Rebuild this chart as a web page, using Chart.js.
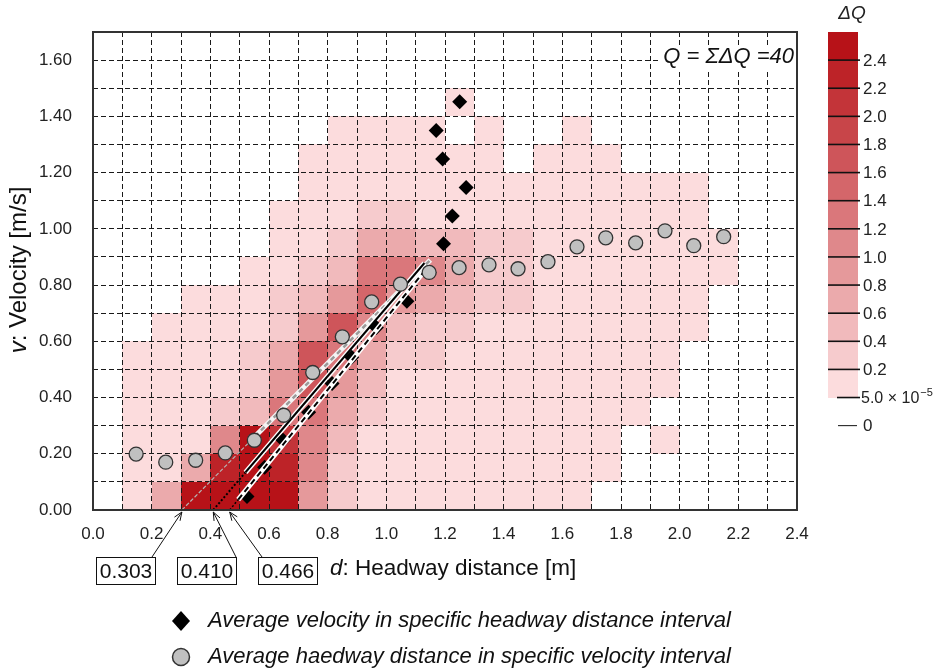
<!DOCTYPE html>
<html><head><meta charset="utf-8">
<script src="https://cdn.jsdelivr.net/npm/chart.js@4.4.1/dist/chart.umd.min.js"></script>
<style>html,body{margin:0;padding:0;background:#fff;}#wrap{width:942px;height:672px;}</style>
</head><body><div id="wrap"><canvas id="c" width="942" height="672"></canvas></div>
<script>
// ---------- DATA ----------
const headwayBinStarts = [0.0,0.1,0.2,0.3,0.4,0.5,0.6,0.7,0.8,0.9,1.0,1.1,1.2,1.3,1.4,1.5,1.6,1.7,1.8,1.9,2.0,2.1,2.2,2.3];
const velocityBinStarts = [0.0,0.1,0.2,0.3,0.4,0.5,0.6,0.7,0.8,0.9,1.0,1.1,1.2,1.3,1.4,1.5,1.6];
const binWidth = 0.1;
// deltaQ per velocity bin (one array per row), columns follow headwayBinStarts
const dqV00 = [0,0.05,0.7,2.6,2.6,2.6,2.4,0.9,0.3,0.15,0.05,0.05,0.05,0.05,0.05,0.05,0.05,0,0,0,0,0,0,0];
const dqV01 = [0,0.05,0.05,0.6,2.2,2.6,2.3,1.0,0.3,0.1,0.05,0.05,0.05,0.05,0.05,0.05,0.05,0.05,0,0,0,0,0,0];
const dqV02 = [0,0.05,0.05,0.1,1.0,2.5,2.1,1.0,0.4,0.1,0.05,0.05,0.05,0.05,0.05,0.05,0.05,0.05,0,0.05,0,0,0,0];
const dqV03 = [0,0.05,0.05,0.05,0.25,0.5,1.3,1.2,0.6,0.3,0.05,0.05,0.05,0.05,0.05,0.05,0.05,0.05,0.05,0,0,0,0,0];
const dqV04 = [0,0.05,0.05,0.05,0.05,0.25,0.8,1.6,0.9,0.4,0.1,0.05,0.05,0.05,0.05,0.05,0.05,0.05,0.05,0.05,0,0,0,0];
const dqV05 = [0,0.05,0.05,0.05,0.05,0.2,0.6,1.7,1.2,0.6,0.3,0.2,0.1,0.05,0.05,0.05,0.05,0.05,0.05,0.05,0,0,0,0];
const dqV06 = [0,0,0.05,0.05,0.05,0.1,0.35,0.9,1.6,1.0,0.5,0.35,0.3,0.05,0.05,0.05,0.05,0.05,0.05,0.05,0.05,0,0,0];
const dqV07 = [0,0,0,0.05,0.05,0.05,0.2,0.4,0.9,1.4,0.8,0.6,0.5,0.35,0.3,0.05,0.05,0.05,0.05,0.05,0.05,0,0,0];
const dqV08 = [0,0,0,0,0,0.05,0.05,0.2,0.5,1.2,1.2,1.0,0.6,0.35,0.25,0.05,0.05,0.05,0.05,0.05,0.05,0.05,0,0];
const dqV09 = [0,0,0,0,0,0,0.05,0.05,0.3,0.6,0.6,0.5,0.45,0.3,0.25,0.05,0.05,0.05,0.05,0.05,0.05,0.05,0,0];
const dqV10 = [0,0,0,0,0,0,0.05,0.05,0.05,0.3,0.3,0.05,0.05,0.05,0.05,0.05,0.05,0.05,0.05,0.05,0.05,0,0,0];
const dqV11 = [0,0,0,0,0,0,0,0.05,0.05,0.05,0.05,0.05,0.05,0.05,0.05,0.05,0.05,0.05,0.05,0.05,0.05,0,0,0];
const dqV12 = [0,0,0,0,0,0,0,0.05,0.05,0.05,0.05,0.05,0.05,0.05,0,0.05,0.05,0.05,0,0,0,0,0,0];
const dqV13 = [0,0,0,0,0,0,0,0,0.05,0.05,0.05,0.05,0,0.05,0,0,0.05,0,0,0,0,0,0,0];
const dqV14 = [0,0,0,0,0,0,0,0,0,0,0,0,0.05,0,0,0,0,0,0,0,0,0,0,0];
const dqV15 = [0,0,0,0,0,0,0,0,0,0,0,0,0,0,0,0,0,0,0,0,0,0,0,0];
const dqV16 = [0,0,0,0,0,0,0,0,0,0,0,0,0,0,0,0,0,0,0,0,0,0,0,0];
const deltaQ = [dqV00,dqV01,dqV02,dqV03,dqV04,dqV05,dqV06,dqV07,dqV08,dqV09,dqV10,dqV11,dqV12,dqV13,dqV14,dqV15,dqV16];

// Average velocity in specific headway distance interval (diamonds)
const diamondD = [0.525,0.585,0.648,0.735,0.815,0.882,0.966,1.07,1.146,1.195,1.225,1.272,1.192,1.17,1.25];
const diamondV = [0.048,0.152,0.248,0.348,0.45,0.543,0.649,0.742,0.845,0.947,1.046,1.147,1.248,1.35,1.452];
// Average headway distance in specific velocity interval (circles)
const circleD = [0.147,0.248,0.35,0.451,0.55,0.65,0.749,0.85,0.95,1.048,1.146,1.248,1.35,1.449,1.551,1.65,1.748,1.85,1.95,2.048,2.15];
const circleV = [0.199,0.170,0.177,0.203,0.248,0.337,0.489,0.616,0.740,0.803,0.845,0.862,0.872,0.858,0.883,0.936,0.968,0.950,0.993,0.940,0.972];

// fitted lines: x-intercept, slope, drawn range
const fitInterceptD = [0.303, 0.410, 0.466];
const fitSlope = [1.05, 1.22, 1.28];
const fitStartD = [0.551, 0.52, 0.495];
const fitEndD = [1.15, 1.13, 1.135];
const interceptLabels = ['0.303','0.410','0.466'];

const xTickLabelsEvery = 0.2;
const colorbarLabels = ['2.4','2.2','2.0','1.8','1.6','1.4','1.2','1.0','0.8','0.6','0.4','0.2'];
const legendLabels = ['Average velocity in specific headway distance interval','Average haedway distance in specific velocity interval'];

// ---------- STYLE HELPERS ----------
const FONT = '"Liberation Sans", Arial, sans-serif';
function bandColor(band){
  const t = band/12;
  const r = Math.round(252 + (183-252)*t), g = Math.round(220 + (18-220)*t), b = Math.round(221 + (24-221)*t);
  return `rgb(${r},${g},${b})`;
}
function bandOf(v){ return v < 0.2 ? 0 : Math.min(12, Math.floor(v/0.2 + 1e-9)); }

const linePts = (i, d0, d1) => [{x:d0, y:fitSlope[i]*(d0-fitInterceptD[i])},{x:d1, y:fitSlope[i]*(d1-fitInterceptD[i])}];

const heatPlugin = {
  id:'heat',
  beforeDraw(chart){
    const {ctx, scales:{x, y}} = chart;
    ctx.save();
    for (let r=0;r<deltaQ.length;r++){
      for (let c=0;c<deltaQ[r].length;c++){
        const val = deltaQ[r][c];
        if (!(val>0)) continue;
        const x0 = Math.round(x.getPixelForValue(headwayBinStarts[c]));
        const x1 = Math.round(x.getPixelForValue(headwayBinStarts[c]+binWidth));
        const y0 = Math.round(y.getPixelForValue(velocityBinStarts[r]+binWidth));
        const y1 = Math.round(y.getPixelForValue(velocityBinStarts[r]));
        ctx.fillStyle = bandColor(bandOf(val));
        ctx.fillRect(x0, y0, x1-x0, y1-y0);
      }
    }
    ctx.restore();
  }
};

function arrow(ctx, x0,y0,x1,y1){
  ctx.beginPath(); ctx.moveTo(x0,y0); ctx.lineTo(x1,y1); ctx.stroke();
  const a = Math.atan2(y1-y0, x1-x0), L = 9, s = 0.38;
  ctx.beginPath();
  ctx.moveTo(x1 - L*Math.cos(a-s), y1 - L*Math.sin(a-s));
  ctx.lineTo(x1,y1);
  ctx.lineTo(x1 - L*Math.cos(a+s), y1 - L*Math.sin(a+s));
  ctx.stroke();
}

const decorPlugin = {
  id:'decor',
  afterDraw(chart){
    const {ctx, chartArea:ca, scales:{x, y}} = chart;
    ctx.save();
    // frame
    ctx.strokeStyle = '#333'; ctx.lineWidth = 2;
    ctx.strokeRect(ca.left, ca.top, ca.right-ca.left, ca.bottom-ca.top);

    // Q text
    ctx.font = 'italic 22px ' + FONT;
    ctx.textBaseline = 'middle'; ctx.textAlign = 'right';
    const qt = 'Q = ΣΔQ =40';
    const qw = ctx.measureText(qt).width;
    ctx.fillStyle = '#fff';
    ctx.fillRect(ca.right - 4 - qw - 3, 45, qw + 4, 24);
    ctx.fillStyle = '#111';
    ctx.fillText(qt, ca.right - 3, 57);

    // colorbar
    const bh = y.getPixelForValue(0) - y.getPixelForValue(0.1);
    const cbx = 828, cbw = 30, cbt = ca.top;
    for (let k=0;k<13;k++){
      ctx.fillStyle = bandColor(12-k);
      ctx.fillRect(cbx, Math.round(cbt + k*bh), cbw, Math.round(cbt+(k+1)*bh) - Math.round(cbt + k*bh));
    }
    ctx.strokeStyle = '#111'; ctx.lineWidth = 1.6;
    ctx.font = '17px ' + FONT; ctx.textAlign = 'left'; ctx.fillStyle = '#222';
    for (let k=1;k<=12;k++){
      const yy = cbt + k*bh;
      ctx.beginPath(); ctx.moveTo(cbx, yy); ctx.lineTo(cbx+cbw+2, yy); ctx.stroke();
      ctx.fillText(colorbarLabels[k-1], 863, yy+1);
    }
    let yy = cbt + 13*bh;
    ctx.beginPath(); ctx.moveTo(837, yy); ctx.lineTo(cbx+cbw+2, yy); ctx.stroke();
    ctx.font = '16px ' + FONT;
    ctx.fillText('5.0 × 10', 861, yy+1);
    const w5 = ctx.measureText('5.0 × 10').width;
    ctx.font = '11px ' + FONT;
    ctx.fillText('−5', 861 + w5 + 1, yy - 5);
    yy = cbt + 14*bh;
    ctx.lineWidth = 1;
    ctx.beginPath(); ctx.moveTo(838, yy); ctx.lineTo(857, yy); ctx.stroke();
    ctx.font = '17px ' + FONT;
    ctx.fillText('0', 863, yy+1);
    ctx.font = 'italic 19px ' + FONT; ctx.textAlign = 'center';
    ctx.fillText('ΔQ', 852, 14);

    // axis titles
    ctx.fillStyle = '#111'; ctx.textAlign = 'left'; ctx.textBaseline = 'middle';
    ctx.font = 'italic 22.5px ' + FONT;
    const dw = ctx.measureText('d').width;
    ctx.fillText('d', 330, 569);
    ctx.font = '22.5px ' + FONT;
    ctx.fillText(': Headway distance [m]', 330 + dw, 569);
    // y title rotated
    ctx.save();
    ctx.translate(19, 270); ctx.rotate(-Math.PI/2);
    ctx.font = 'italic 24px ' + FONT;
    const vw = ctx.measureText('v').width;
    ctx.font = '24px ' + FONT;
    const rest = ': Velocity [m/s]';
    const rw = ctx.measureText(rest).width;
    const tot = vw + rw;
    ctx.font = 'italic 24px ' + FONT;
    ctx.fillText('v', -tot/2, 0);
    ctx.font = '24px ' + FONT;
    ctx.fillText(rest, -tot/2 + vw, 0);
    ctx.restore();

    // intercept boxes and arrows
    const boxX = [96, 177, 258], boxW = 59, boxY = 557, boxH = 27;
    const arrowFrom = [[152,557],[236,557],[262,557]];
    ctx.strokeStyle = '#111'; ctx.lineWidth = 1;
    ctx.font = '21px ' + FONT; ctx.textAlign = 'center'; ctx.fillStyle = '#111';
    for (let i=0;i<3;i++){
      ctx.strokeRect(boxX[i]+0.5, boxY+0.5, boxW, boxH);
      ctx.fillText(interceptLabels[i], boxX[i] + boxW/2 + 0.5, boxY + boxH/2 + 1.5);
      const tx = x.getPixelForValue(fitInterceptD[i]);
      arrow(ctx, arrowFrom[i][0], arrowFrom[i][1], tx, y.getPixelForValue(0)+2);
    }

    // legend
    const lx = 181, ly = [621, 657];
    ctx.fillStyle = '#000';
    ctx.beginPath();
    ctx.moveTo(lx, ly[0]-10); ctx.lineTo(lx+9, ly[0]); ctx.lineTo(lx, ly[0]+10); ctx.lineTo(lx-9, ly[0]); ctx.closePath(); ctx.fill();
    ctx.beginPath(); ctx.arc(lx, ly[1], 8.5, 0, Math.PI*2);
    ctx.fillStyle = '#c0c0c0'; ctx.fill(); ctx.strokeStyle = '#333'; ctx.lineWidth = 1.5; ctx.stroke();
    ctx.font = 'italic 22px ' + FONT; ctx.textAlign = 'left'; ctx.fillStyle = '#111';
    ctx.fillText(legendLabels[0], 208, ly[0]);
    ctx.fillText(legendLabels[1], 208, ly[1]);
    ctx.restore();
  }
};

const lineDs = (data, color, width, dash, order) => ({
  data, showLine:true, borderColor:color, borderWidth:width, borderDash:dash,
  pointRadius:0, pointHoverRadius:0, fill:false, order, borderCapStyle:'butt'
});

const datasets = [
  { label:'circles', data: circleD.map((d,i)=>({x:d, y:circleV[i]})), pointStyle:'circle', pointRadius:7,
    backgroundColor:'#c0c0c0', borderColor:'#333', borderWidth:1.3, showLine:false, order:0 },
  lineDs(linePts(2, fitStartD[2], fitEndD[2]), '#000', 2, [6,4], 1),
  lineDs(linePts(2, fitStartD[2], fitEndD[2]), '#fff', 5, [], 2),
  { label:'diamonds', data: diamondD.map((d,i)=>({x:d, y:diamondV[i]})), pointStyle:'rectRot', pointRadius:7.5,
    backgroundColor:'#000', borderColor:'#000', borderWidth:0, showLine:false, order:3 },
  lineDs(linePts(1, fitStartD[1], fitEndD[1]), '#000', 2, [], 4),
  lineDs(linePts(1, fitStartD[1], fitEndD[1]), '#fff', 5, [], 5),
  lineDs(linePts(1, fitInterceptD[1], fitStartD[1]), '#000', 2, [2,2], 6),
  lineDs(linePts(2, fitInterceptD[2], fitStartD[2]), '#000', 1.5, [2,2], 7),
  lineDs(linePts(0, fitStartD[0], fitEndD[0]), '#9a9a9a', 2.5, [5,4], 8),
  lineDs(linePts(0, fitStartD[0], fitEndD[0]), '#f4f4f4', 5, [], 9),
  lineDs(linePts(0, fitInterceptD[0], fitStartD[0]), '#b5b5b5', 1.2, [4,2], 10)
];

new Chart(document.getElementById('c'), {
  type:'scatter',
  data:{ datasets },
  plugins:[heatPlugin, decorPlugin],
  options:{
    responsive:false, animation:false, devicePixelRatio:1, events:[],
    layout:{ padding:{ left:0, right:145, top:32, bottom:122 } },
    plugins:{ legend:{display:false}, tooltip:{enabled:false} },
    scales:{
      x:{ type:'linear', min:0, max:2.4,
        afterFit(s){ s.height = 40; },
        grid:{ color:'#1a1a1a', lineWidth:1, drawTicks:false },
        border:{ display:false, dash:[5,3] },
        ticks:{ stepSize:0.1, autoSkip:false, maxRotation:0, padding:14, color:'#222',
          font:{ family:FONT, size:17 },
          callback(v){ const k = Math.round(v*10); return (k % Math.round(xTickLabelsEvery*10) === 0) ? (k/10).toFixed(1) : ''; } }
      },
      y:{ type:'linear', min:0, max:1.7,
        afterFit(s){ s.width = 93; },
        grid:{ color:'#1a1a1a', lineWidth:1, drawTicks:false },
        border:{ display:false, dash:[5,3] },
        ticks:{ stepSize:0.1, autoSkip:false, padding:21, color:'#222',
          font:{ family:FONT, size:17 },
          callback(v){ const k = Math.round(v*10); return (k % 2 === 0 && k <= 16) ? (k/10).toFixed(2) : ''; } }
      }
    }
  }
});
</script>
</body></html>
